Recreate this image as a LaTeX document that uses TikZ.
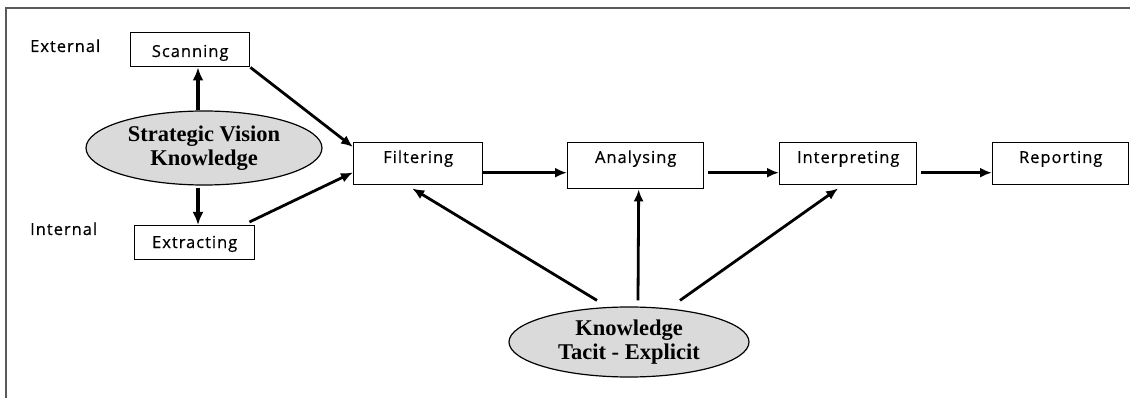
\documentclass[tikz,border=0pt]{standalone}
\usepackage{fontspec}
\usetikzlibrary{arrows.meta,shapes.geometric,calc}
\newfontfamily\boxfont{Open Sans}[LetterSpace=6,FakeBold=0.5]
\newfontfamily\ovalfont{Liberation Serif}
\definecolor{ovalgray}{HTML}{DADADA}
\definecolor{framegray}{HTML}{5A5A5A}
\begin{document}
\begin{tikzpicture}[x=1pt,y=-1pt,
  stagebox/.style={draw, line width=1.4pt, rectangle, inner sep=0pt, anchor=north west},
  stagetext/.style={anchor=base, inner sep=0pt, font=\boxfont\fontsize{16.5}{18}\selectfont},
  sidelabel/.style={anchor=base west, inner sep=0pt, font=\boxfont\fontsize{16.5}{18}\selectfont},
  oval/.style={draw, line width=1.2pt, ellipse, fill=ovalgray, inner sep=0pt, align=center,
    font=\ovalfont\bfseries\fontsize{22.5}{24.5}\selectfont},
  flow/.style={line width=2.8pt, -{Latex[length=12pt,width=10pt]}},
  heavy/.style={line width=4.5pt, -{Latex[length=13pt,width=11pt]}},
]
\useasboundingbox (0,0) rectangle (1130,398);
% open frame: top and left edges only
\draw[framegray, line width=2pt] (5.5,398) -- (5.5,8.5) -- (1130,8.5);

% stage boxes with their captions
\node[stagebox, minimum width=119pt, minimum height=34pt] (scan) at (130,32) {};
\node[stagetext] (scant) at ($(scan.north)+(0,25)$) {Scanning};
\node[stagebox, minimum width=120pt, minimum height=34pt] (extr) at (134,225) {};
\node[stagetext] (extrt) at ($(extr.north)+(0,23)$) {Extracting};
\node[stagebox, minimum width=129pt, minimum height=42pt] (filt) at (353,142) {};
\node[stagetext] (filtt) at ($(filt.north)+(0,21)$) {Filtering};
\node[stagebox, minimum width=136pt, minimum height=46pt] (ana) at (567,142) {};
\node[stagetext] (anat) at ($(ana.north)+(0,21)$) {Analysing};
\node[stagebox, minimum width=137pt, minimum height=42pt] (interp) at (779,142) {};
\node[stagetext] (interpt) at ($(interp.north)+(0,21)$) {Interpreting};
\node[stagebox, minimum width=136pt, minimum height=42pt] (rep) at (992,142) {};
\node[stagetext] (rept) at ($(rep.north)+(0,21)$) {Reporting};

% side labels
\node[sidelabel] (ext) at (30,52) {External};
\node[sidelabel] (int) at (30,235) {Internal};

% knowledge ovals
\node[oval, minimum width=236pt, minimum height=74pt] (sv) at (204,148) {Strategic Vision\\Knowledge};
\node[oval, minimum width=240pt, minimum height=70pt] (kn) at (629,342) {Knowledge\\Tacit - Explicit};

% strategic vision feeds scanning and extracting
\draw[heavy] ([xshift=-6pt]sv.north) -- ([xshift=-6pt]sv.north |- scan.south);
\draw[heavy] ([xshift=-6pt,yshift=-2pt]sv.south) -- ([xshift=-6pt]sv.south |- extr.north);

% sources into filtering
\draw[flow] (scan.south east) -- ([yshift=-5pt]filt.north west);
\draw[flow] ([xshift=-6pt,yshift=3pt]extr.north east) -- ([yshift=13pt]filt.south west);

% main pipeline
\draw[flow] ([yshift=-9pt]filt.east) -- ([yshift=-9pt]filt.east -| ana.west);
\draw[flow] ([xshift=4pt,yshift=-9pt]ana.east |- filt.east) -- ([yshift=-9pt]interp.west);
\draw[flow] ([xshift=4pt,yshift=-9pt]interp.east) -- ([yshift=-9pt]rep.west);

% tacit/explicit knowledge supports the middle stages
\draw[flow] ([xshift=-32pt,yshift=6pt]kn.north) -- ([xshift=-6pt,yshift=-3pt]filt.south);
\draw[flow] ([xshift=9pt,yshift=6pt]kn.north) -- ([xshift=3pt]ana.south);
\draw[flow] ([xshift=51pt,yshift=6pt]kn.north) -- ([xshift=-10pt,yshift=-3pt]interp.south);
\end{tikzpicture}
\end{document}
